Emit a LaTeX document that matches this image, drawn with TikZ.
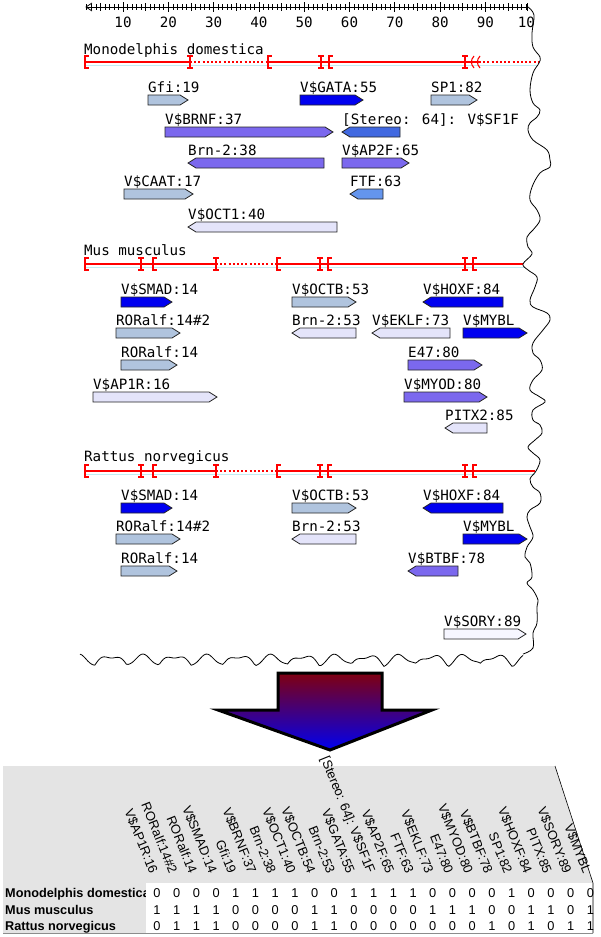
\documentclass[tikz,border=0pt]{standalone}
\usepackage{fontspec}
\setmainfont{Liberation Sans}
\newfontfamily\monof{DejaVu Sans Mono}
\definecolor{lsb}{RGB}{176,196,222}
\definecolor{fblue}{RGB}{0,0,240}
\definecolor{mslate}{RGB}{123,104,238}
\definecolor{royal}{RGB}{65,105,225}
\definecolor{cornf}{RGB}{100,149,237}
\definecolor{lav}{RGB}{228,228,250}
\definecolor{ghost}{RGB}{246,246,255}
\definecolor{shadowcyan}{RGB}{195,236,242}
\definecolor{tgray}{RGB}{228,228,228}
\definecolor{arrowtop}{RGB}{128,0,16}
\tikzset{
  featline/.style={draw=black!85, line width=0.8pt},
  flab/.style={anchor=base west, inner sep=0pt, font=\monof\fontsize{14.2}{16}\selectfont},
  redl/.style={draw=red, line width=1.1pt},
  reddot/.style={draw=red, line width=1.1pt, dash pattern=on 2pt off 2.2pt},
  cyanl/.style={draw=shadowcyan, line width=1pt},
  edge/.style={draw=black, line width=0.8pt},
  hdr/.style={rotate=-68, anchor=east, inner sep=0pt, font=\fontsize{13}{15}\selectfont},
  dig/.style={anchor=base, inner sep=0pt, font=\fontsize{12.8}{14}\selectfont},
  rowlab/.style={anchor=base west, inner sep=0pt, font=\bfseries\fontsize{12.7}{14}\selectfont}
}
\newcommand\featR[6]{%
  \draw[featline, fill=#5] (#2,#4) -- ({#3-8},#4) -- (#3,{#4+5}) -- ({#3-8},{#4+10}) -- (#2,{#4+10}) -- cycle;
  \node[flab] (#1) at (#2,{#4-3}) {#6};}
\newcommand\featL[6]{%
  \draw[featline, fill=#5] (#2,{#4+5}) -- ({#2+8},#4) -- (#3,#4) -- (#3,{#4+10}) -- ({#2+8},{#4+10}) -- cycle;
  \node[flab] (#1) at (#2,{#4-3}) {#6};}
\newcommand\brkE[2]{\draw[redl] ({#1+3.5},{#2-6}) -- (#1,{#2-6}) -- (#1,{#2+6}) -- ({#1+3.5},{#2+6});}
\newcommand\brkI[2]{\draw[redl] ({#1-3},{#2-6}) -- ({#1+3},{#2-6}) (#1,{#2-6}) -- (#1,{#2+6}) ({#1-3},{#2+6}) -- ({#1+3},{#2+6});}
\newcommand\brkP[2]{\draw[redl] ({#1+2},{#2-6}) .. controls ({#1-1.5},{#2-2}) and ({#1-1.5},{#2+2}) .. ({#1+2},{#2+6});}
\begin{document}
\begin{tikzpicture}[x=1pt,y=-1pt]
\useasboundingbox (0,0) rectangle (600,937);
\fill[white] (0,0) rectangle (600,937);

% ---------- axis ----------
\draw[black, line width=0.8pt] (86,7) -- (527,7);
\draw[black, line width=0.8pt] (92,3) -- (86,7) -- (92,11);
\foreach \p in {2,...,99}{
  \pgfmathsetmacro\xx{77.7+4.53*\p}
  \pgfmathtruncatemacro\mten{mod(\p,10)}
  \pgfmathtruncatemacro\mfive{mod(\p,5)}
  \ifnum\mten=0
    \draw[black, line width=0.7pt] (\xx,2) -- (\xx,12);
  \else\ifnum\mfive=0
    \draw[black, line width=0.7pt] (\xx,3) -- (\xx,11);
  \else
    \draw[black, line width=0.6pt] (\xx,4) -- (\xx,10);
  \fi\fi
}
\draw[black, line width=0.8pt] (527,3) -- (527,11);
\foreach \n in {1,...,9}{
  \node[flab, anchor=base] (ax\n) at ({77.7+45.3*\n},27) {\n0};
}
\begin{scope}
  \clip (500,10) rectangle (533,40);
  \node[flab, anchor=base] (ax10) at (530.7,27) {100};
\end{scope}

% ---------- Monodelphis ----------
\node[flab] (tmono) at (84,54) {Monodelphis domestica};
\draw[cyanl] (85,65) -- (538,65);
\draw[redl] (85,62) -- (190,62);
\draw[reddot] (190,62) -- (268,62);
\draw[redl] (268,62) -- (479,62);
\draw[reddot] (479,62) -- (538,62);
\brkE{85}{62} \brkI{190}{62} \brkE{268}{62} \brkI{321}{62} \brkE{329}{62} \brkI{465}{62}
\brkP{472}{62} \brkP{478}{62}

\featR{gfi}{148}{188}{95}{lsb}{Gfi:19}
\featR{gata}{300}{363}{95}{fblue}{V\$GATA:55}
\featR{sp1}{431}{477}{95}{lsb}{SP1:82}
\featR{brnf}{165}{333}{127}{mslate}{V\$BRNF:37}
\featL{sf1f}{342}{400}{127}{royal}{[Stereo: 64]: V\$SF1F}
\featL{brnA}{188}{324}{158}{mslate}{Brn-2:38}
\featR{ap2f}{342}{409}{158}{mslate}{V\$AP2F:65}
\featR{caat}{124}{193}{189}{lsb}{V\$CAAT:17}
\featL{ftf}{350}{383}{189}{cornf}{FTF:63}
\featL{oct1}{188}{337}{222}{lav}{V\$OCT1:40}

% ---------- Mus musculus ----------
\node[flab] (tmus) at (84,255) {Mus musculus};
\draw[cyanl] (85,267) -- (524,267);
\draw[redl] (85,264) -- (216,264);
\draw[reddot] (216,264) -- (277,264);
\draw[redl] (277,264) -- (523,264);
\brkE{85}{264} \brkI{141}{264} \brkE{153}{264} \brkI{216}{264} \brkE{277}{264} \brkI{320}{264} \brkE{328}{264} \brkI{465}{264} \brkE{473}{264}

\featR{msmad}{121}{172}{297}{fblue}{V\$SMAD:14}
\featR{moctb}{292}{356}{297}{lsb}{V\$OCTB:53}
\featL{mhoxf}{423}{503}{297}{fblue}{V\$HOXF:84}
\featR{mror2}{116}{180}{328}{lsb}{RORalf:14\#2}
\featL{mbrn}{292}{356}{328}{lav}{Brn-2:53}
\featL{meklf}{372}{450}{328}{lav}{V\$EKLF:73}
\featR{mmybl}{463}{527}{328}{fblue}{V\$MYBL}
\featR{mror}{121}{177}{360}{lsb}{RORalf:14}
\featR{me47}{408}{482}{360}{mslate}{E47:80}
\featR{map1r}{93}{217}{392}{lav}{V\$AP1R:16}
\featR{mmyod}{404}{487}{392}{mslate}{V\$MYOD:80}
\featL{mpitx}{445}{487}{423}{lav}{PITX2:85}

% ---------- Rattus norvegicus ----------
\node[flab] (trat) at (84,461) {Rattus norvegicus};
\draw[cyanl] (85,474) -- (535,474);
\draw[redl] (85,471) -- (216,471);
\draw[reddot] (216,471) -- (277,471);
\draw[redl] (277,471) -- (535,471);
\brkE{85}{471} \brkI{141}{471} \brkE{153}{471} \brkI{216}{471} \brkE{277}{471} \brkI{320}{471} \brkE{328}{471} \brkI{465}{471} \brkE{473}{471}

\featR{rsmad}{121}{172}{503}{fblue}{V\$SMAD:14}
\featR{roctb}{292}{356}{503}{lsb}{V\$OCTB:53}
\featL{rhoxf}{423}{503}{503}{fblue}{V\$HOXF:84}
\featR{rror2}{116}{180}{534}{lsb}{RORalf:14\#2}
\featL{rbrn}{292}{356}{534}{lav}{Brn-2:53}
\featR{rmybl}{463}{527}{534}{fblue}{V\$MYBL}
\featR{rror}{121}{177}{566}{lsb}{RORalf:14}
\featL{rbtbf}{408}{458}{566}{mslate}{V\$BTBF:78}
\featR{rsory}{444}{526}{629}{ghost}{V\$SORY:89}

% ---------- torn edges ----------
\draw[edge] plot[smooth, tension=0.6] coordinates {(528,7) (534,15) (532,33) (533,47) (540,57) (539,63) (533,73) (530,90) (533,103) (540,110) (537,117) (530,123) (528,130) (533,140) (547,150) (550,160) (550,167) (540,173) (532,187) (530,200) (537,210) (540,220) (533,230) (527,237) (528,247) (532,254) (523,264) (528,270) (537,277) (535,287) (530,300) (533,307) (547,313) (550,320) (543,330) (533,343) (533,353) (540,360) (542,370) (533,380) (530,390) (540,397) (545,402) (533,410) (533,420) (540,425) (542,433) (535,440) (528,447) (533,453) (540,460) (536,471) (530,479) (533,487) (540,493) (540,503) (530,510) (527,517) (530,527) (533,537) (527,547) (525,557) (530,563) (532,577) (527,583) (533,590) (538,600) (537,607) (537,623) (533,633) (533,648) (523,654)};
\draw[edge] plot[domain=523:80, samples=240, variable=\t] (\t, {665 - 9*abs(sin(\t*5.6+10)) + 2*sin(\t*17)});

% ---------- big arrow ----------
\path[top color=arrowtop, bottom color=fblue, draw=black, line width=3pt, line join=miter]
  (278,673) -- (382,673) -- (382,710) -- (432,710) -- (330,750) -- (218,710) -- (278,710) -- cycle;

% ---------- table ----------
\fill[tgray] (3,766) -- (555,766) -- (593,883) -- (593,933) -- (3,933) -- cycle;
\node[rowlab] (rl1) at (5,897.5) {Monodelphis domestica};
\node[rowlab] (rl2) at (5,914) {Mus musculus};
\node[rowlab] (rl3) at (5,930) {Rattus norvegicus};
\fill[white] (146,883) rectangle (593,933);
\draw[black, line width=0.6pt] (555,766) -- (593,883) -- (593,933);
\draw[black!45, line width=0.8pt] (3,933.5) -- (593,933.5);

\foreach \t [count=\i from 0] in {V\$AP1R:16, RORalf:14\#2, RORalf:14, V\$SMAD:14, Gfi:19, V\$BRNF:37, Brn-2:38, V\$OCT1:40, V\$OCTB:54, Brn-2:53, V\$GATA:55, {[Stereo: 64]: V\$SF1F}, V\$AP2F:65, FTF:63, V\$EKLF:73, E47:80, V\$MYOD:80, V\$BTBF:78, SP1:82, V\$HOXF:84, PITX:85, V\$SORY:89, V\$MYBL}
  \node[hdr] (h\i) at ({157+19.7*\i-3},873) {\t};

\foreach \v [count=\i from 0] in {0,0,0,0,1,1,1,1,0,0,1,1,1,1,0,0,0,0,1,0,0,0,0}
  \node[dig] (da\i) at ({157+19.7*\i},897.5) {\v};
\foreach \v [count=\i from 0] in {1,1,1,1,0,0,0,0,1,1,0,0,0,0,1,1,1,0,0,1,1,0,1}
  \node[dig] (db\i) at ({157+19.7*\i},914) {\v};
\foreach \v [count=\i from 0] in {0,1,1,1,0,0,0,0,1,1,0,0,0,0,0,0,0,1,0,1,0,1,1}
  \node[dig] (dc\i) at ({157+19.7*\i},930) {\v};
\end{tikzpicture}
\end{document}
